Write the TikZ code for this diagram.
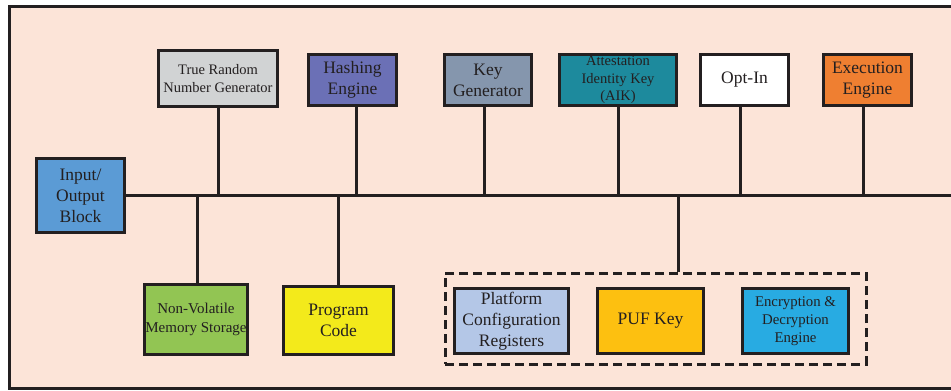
\documentclass[tikz,border=0pt]{standalone}
\usepackage{fontspec}
\setmainfont{Liberation Serif}

\definecolor{ink}{HTML}{231F20}
\definecolor{peach}{HTML}{FCE4D8}
\definecolor{trnggray}{HTML}{D1D3D4}
\definecolor{hashblue}{HTML}{6B70B6}
\definecolor{keygray}{HTML}{8596AD}
\definecolor{aikteal}{HTML}{1D8A9D}
\definecolor{execorange}{HTML}{EF7F31}
\definecolor{ioblue}{HTML}{5B9BD5}
\definecolor{nvmgreen}{HTML}{92C553}
\definecolor{progyellow}{HTML}{F3EA1B}
\definecolor{pcrblue}{HTML}{B4C7E7}
\definecolor{pufgold}{HTML}{FDC010}
\definecolor{encblue}{HTML}{28ABE2}

\begin{document}
\begin{tikzpicture}[x=1pt,y=-1pt,line join=miter,
    blk/.style={draw=ink,line width=3.2pt,text=ink,align=center,inner sep=1pt,
      font=\fontsize{17.5}{21}\selectfont},
    smalltxt/.style={font=\fontsize{14.5}{18}\selectfont},
    wire/.style={draw=ink,line width=3pt}]
    \useasboundingbox (0,0) rectangle (951,391);
    \clip (0,0) rectangle (951,391);
    \draw[ink,line width=3pt,fill=peach] (9,6) rectangle (970,388);

    % upper row
    \node[blk,smalltxt,fill=trnggray,minimum width=119,minimum height=56] (trng) at (218,78.5) {True Random\\Number Generator};
    \node[blk,fill=hashblue,minimum width=88,minimum height=51] (hash) at (352.5,80) {Hashing\\Engine};
    \node[blk,fill=keygray,minimum width=87,minimum height=51] (keygen) at (488,80) {Key\\Generator};
    \node[blk,font=\fontsize{14.5}{17.5}\selectfont,fill=aikteal,minimum width=117,minimum height=51] (aik) at (618,80) {Attestation\\Identity Key\\(AIK)};
    \node[blk,fill=white,minimum width=88,minimum height=51] (optin) at (744.5,80) {Opt-In};
    \node[blk,fill=execorange,minimum width=88,minimum height=51] (exec) at (867.5,80) {Execution\\Engine};

    % bus
    \node[blk,fill=ioblue,minimum width=88,minimum height=74] (io) at (80.5,195.5) {Input/\\Output\\Block};
    \coordinate (bus) at (975,195.5);
    \draw[wire] (io.east) -- (bus);

    % lower row
    \node[blk,font=\fontsize{15}{19}\selectfont,fill=nvmgreen,minimum width=103,minimum height=70] (nvm) at (196,319.5) {Non-Volatile\\Memory Storage};
    \node[blk,fill=progyellow,minimum width=110,minimum height=68] (prog) at (338.5,320.5) {Program\\Code};
    \node[draw=ink,line width=3pt,dash pattern=on 9pt off 5pt,minimum width=421,minimum height=91] (grp) at (655.5,318.5) {};
    \node[blk,fill=pcrblue,minimum width=114,minimum height=65] (pcr) at (511.5,321) {Platform\\Configuration\\Registers};
    \node[blk,fill=pufgold,minimum width=106,minimum height=65] (puf) at (650.5,321) {PUF Key};
    \node[blk,font=\fontsize{14.8}{18.3}\selectfont,fill=encblue,minimum width=106,minimum height=65] (enc) at (795.5,321) {Encryption \&\\Decryption\\Engine};

    % stems to the bus
    \draw[wire] (trng.south) -- (trng.south |- bus);
    \draw[wire] ([xshift=3.5pt]hash.south) -- ([xshift=3.5pt]hash.south |- bus);
    \draw[wire] ([xshift=-4pt]keygen.south) -- ([xshift=-4pt]keygen.south |- bus);
    \draw[wire] (aik.south) -- (aik.south |- bus);
    \draw[wire] ([xshift=-4.5pt]optin.south) -- ([xshift=-4.5pt]optin.south |- bus);
    \draw[wire] ([xshift=-4.5pt]exec.south) -- ([xshift=-4.5pt]exec.south |- bus);
    \draw[wire] ([xshift=1pt]nvm.north) -- ([xshift=1pt]nvm.north |- bus);
    \draw[wire] (prog.north) -- (prog.north |- bus);
    \draw[wire] ([xshift=22.5pt]grp.north) -- ([xshift=22.5pt]grp.north |- bus);
\end{tikzpicture}
\end{document}
